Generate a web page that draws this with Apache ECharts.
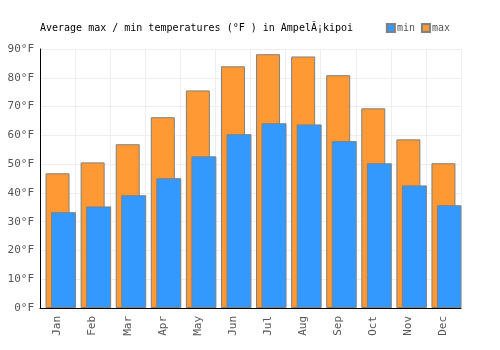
<!DOCTYPE html>
<html>
<head>
<meta charset="utf-8">
<script src="https://cdn.jsdelivr.net/npm/echarts@6/dist/echarts.min.js"></script>
<style>
html,body{margin:0;padding:0;background:#fff;}
#main{width:500px;height:350px;}
</style>
</head>
<body>
<div id="main"></div>
<script>
// 月份和温度数据 (°F)
var months=["Jan","Feb","Mar","Apr","May","Jun","Jul","Aug","Sep","Oct","Nov","Dec"];
var maxTemp=[46.8,50.6,56.9,66.3,75.6,84.0,88.2,87.4,80.9,69.4,58.6,50.3];
var minTemp=[33.3,35.3,39.2,45.1,52.7,60.4,64.2,63.8,58.0,50.3,42.6,35.7];
var yTicks=[0,10,20,30,40,50,60,70,80,90];

var font="DejaVu Sans Mono";
var chart=echarts.init(document.getElementById('main'));

var option={
	animation:false,
	title:{
		text:"Average max / min temperatures (°F ) in AmpelĂ¡kipoi",
		left:35,top:18,
		textStyle:{fontFamily:font,fontSize:10,fontWeight:'normal',color:'#000'}
	},
	legend:{
		data:["min","max"],
		right:45,top:18,
		itemWidth:8,itemHeight:8,itemGap:6,
		textStyle:{fontFamily:font,fontSize:10,color:'#555',padding:[0,0,0,-3]},
		icon:'rect'
	},
	grid:{left:40,right:39,top:49,bottom:42},
	xAxis:[{
		type:'category',
		data:months,
		axisLine:{lineStyle:{color:'#000',width:1}},
		axisTick:{show:false},
		splitLine:{show:true,lineStyle:{color:'#eee'}},
		axisLabel:{rotate:90,fontFamily:font,fontSize:11,color:'#555',margin:8}
	},{
		type:'category',
		data:months,
		show:false
	}],
	yAxis:{
		type:'value',
		min:yTicks[0],max:yTicks[yTicks.length-1],interval:10,
		axisLine:{show:true,lineStyle:{color:'#000'}},
		axisTick:{show:false},
		splitLine:{lineStyle:{color:'#eee'}},
		axisLabel:{formatter:'{value}°F',fontFamily:font,fontSize:11,color:'#555',margin:6}
	},
	series:[{
		name:"max",type:'bar',xAxisIndex:0,
		data:maxTemp,barWidth:24,
		itemStyle:{color:'#ff9933',borderColor:'#808080',borderWidth:1}
	},{
		// 占位，用来把min柱子往右推
		name:"pad",type:'bar',xAxisIndex:1,
		data:months.map(function(){return null;}),barWidth:12,barGap:0,
		itemStyle:{opacity:0}
	},{
		name:"min",type:'bar',xAxisIndex:1,
		data:minTemp,barWidth:25,barGap:0,
		itemStyle:{color:'#3399ff',borderColor:'#808080',borderWidth:1}
	}]
};
chart.setOption(option);
</script>
</body>
</html>
